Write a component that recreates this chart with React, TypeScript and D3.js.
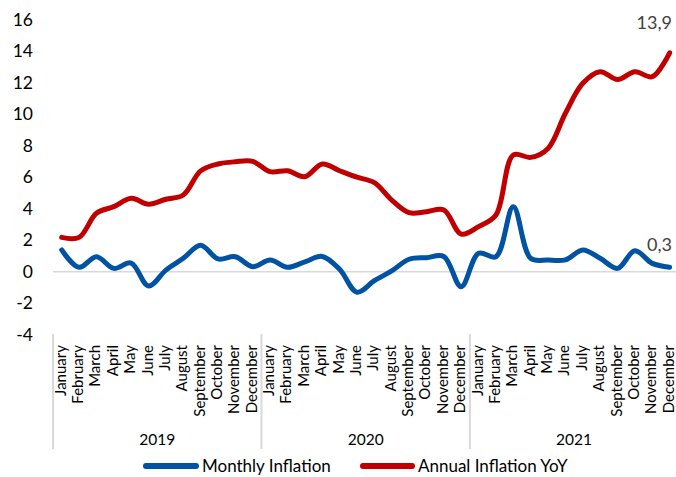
import React from "react";
import * as d3 from "d3";

const months = ["January","February","March","April","May","June","July","August","September","October","November","December"];
const years = ["2019","2020","2021"];
const monthly = [1.38,0.28,0.95,0.21,0.55,-0.91,0.1,0.85,1.68,0.81,0.95,0.32,0.74,0.28,0.63,0.97,0.15,-1.3,-0.57,0.05,0.79,0.89,0.97,-0.95,1.17,0.95,4.13,0.85,0.74,0.75,1.38,0.85,0.21,1.33,0.53,0.28];
const annual = [2.18,2.18,3.71,4.13,4.66,4.28,4.6,4.87,6.4,6.84,6.98,7.0,6.35,6.41,6.03,6.84,6.41,6.0,5.65,4.55,3.75,3.81,3.92,2.39,2.86,3.6,7.41,7.26,7.83,10.06,11.96,12.7,12.2,12.7,12.38,13.9];
const yTicks = [-4,-2,0,2,4,6,8,10,12,14,16];
const seriesNames = ["Monthly Inflation","Annual Inflation YoY"];
const lastLabels = ["0,3","13,9"];

const W = 676, H = 477;
const BLUE = "#0052a3", RED = "#c00000";
const FONT = "Lato, 'Open Sans', sans-serif";

export default function App() {
  const n = monthly.length;
  const band = 17.37;
  const x = d3.scaleBand<number>().domain(d3.range(n)).range([53, 53 + band * n]).paddingInner(0).paddingOuter(0);
  const cx = (i: number) => (x(i) as number) + x.bandwidth() / 2;
  const y = d3.scaleLinear().domain([-4, 16]).range([334.7, 19.7]);
  const line = d3.line<number>().x((_, i) => cx(i)).y(d => y(d)).curve(d3.curveCatmullRom.alpha(0.5));
  const labels = years.flatMap(yr => months.map(m => ({ yr, m })));
  const sepXs = d3.range(0, n + 1, 12).map(i => i < n ? (x(i) as number) : (x(n - 1) as number) + x.bandwidth());
  return (
    <svg width={W} height={H} style={{ position: "absolute", left: 0, top: 0, background: "#fff" }} fontFamily={FONT}>
      {yTicks.map(t => (
        <text key={t} x={33} y={y(t)} dy="0.35em" textAnchor="end" fontSize={17.5} fill="#000">{t}</text>
      ))}
      <line x1={53} x2={W} y1={y(0)} y2={y(0)} stroke="#d9d9d9" strokeWidth={1.5} />
      {sepXs.map((sx, i) => (
        <line key={i} x1={sx} x2={sx} y1={334} y2={449} stroke="#d9d9d9" strokeWidth={2} />
      ))}
      {labels.map((l, i) => (
        <text key={i} transform={`translate(${cx(i) - 0.5},345) rotate(-90)`} dy="0.3em" textAnchor="end" fontSize={15} fill="#000">{l.m}</text>
      ))}
      {years.map((yr, k) => (
        <text key={yr} x={(sepXs[k] + sepXs[k + 1]) / 2} y={445} textAnchor="middle" fontSize={15.5} fill="#000">{yr}</text>
      ))}
      <path d={line(annual) || ""} fill="none" stroke={RED} strokeWidth={5} strokeLinejoin="round" strokeLinecap="round" />
      <path d={line(monthly) || ""} fill="none" stroke={BLUE} strokeWidth={5} strokeLinejoin="round" strokeLinecap="round" />
      <text x={672} y={y(annual[n - 1]) - 24} textAnchor="end" fontSize={18} fill="#404040">{lastLabels[1]}</text>
      <text x={672} y={y(monthly[n - 1]) - 16} textAnchor="end" fontSize={18} fill="#404040">{lastLabels[0]}</text>
      <line x1={146} x2={196} y1={466} y2={466} stroke={BLUE} strokeWidth={6} strokeLinecap="round" />
      <text x={202} y={472} fontSize={17} fill="#000">{seriesNames[0]}</text>
      <line x1={363} x2={412} y1={466} y2={466} stroke={RED} strokeWidth={6} strokeLinecap="round" />
      <text x={418} y={472} fontSize={17} fill="#000">{seriesNames[1]}</text>
    </svg>
  );
}
